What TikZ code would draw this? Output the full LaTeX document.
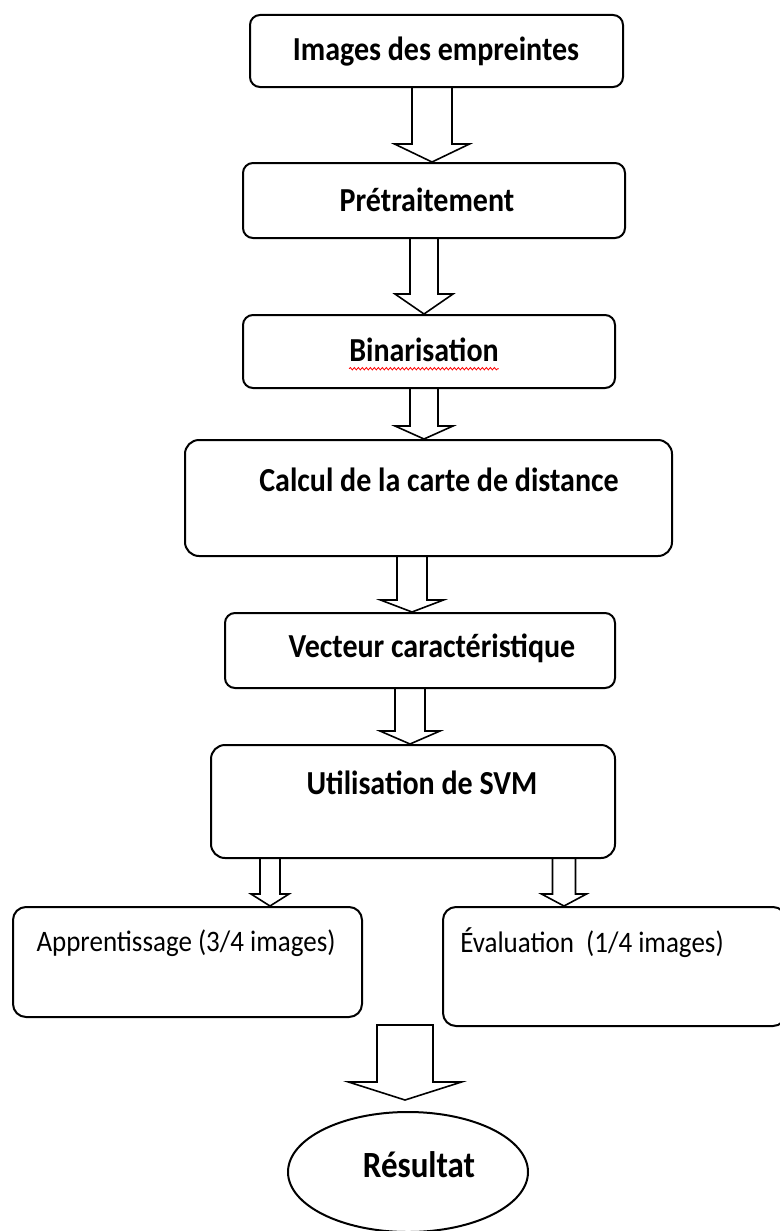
\documentclass[tikz,border=0pt]{standalone}
\usepackage{fontspec}
\setmainfont{Carlito}
\usetikzlibrary{calc,shapes.geometric,decorations.pathmorphing}

\tikzset{
  stage/.style={draw, line width=2pt, rounded corners=10pt, inner sep=0pt},
  caption/.style={inner sep=0pt, yscale=1.12, font=\fontsize{30}{36}\selectfont\bfseries},
  subcaption/.style={inner sep=0pt, yscale=1.1, font=\fontsize{27}{32}\selectfont},
  hollow arrow/.style={draw, line width=1.6pt, line join=miter}
}

% hollow block arrow: start, tip, x, half shaft, half head, head length
\newcommand{\blockarrow}[6]{%
  \draw[hollow arrow] let \p1=(#1), \p2=(#2) in
    (#3pt-#4pt,\y1) -- (#3pt-#4pt,\y2+#6pt) -- (#3pt-#5pt,\y2+#6pt) -- (#3pt,\y2)
    -- (#3pt+#5pt,\y2+#6pt) -- (#3pt+#4pt,\y2+#6pt) -- (#3pt+#4pt,\y1);}

\begin{document}
\begin{tikzpicture}[x=1pt,y=-1pt]
\useasboundingbox (0,0) rectangle (779,1231);

\begin{scope}[every node/.style={stage}]
    \node (b1) at (436.5,51) [minimum width=373pt, minimum height=72pt] {};
    \node (b2) at (434,200.5) [minimum width=382pt, minimum height=75pt] {};
    \node (b3) at (429,351.5) [minimum width=372pt, minimum height=73pt] {};
    \node (b4) at (428.5,498) [minimum width=487pt, minimum height=116pt, rounded corners=14pt] {};
    \node (b5) at (420,650.5) [minimum width=390pt, minimum height=75pt] {};
    \node (b6) at (413,801.5) [minimum width=404pt, minimum height=113pt, rounded corners=14pt] {};
    \node (b7) at (187.5,962) [minimum width=349pt, minimum height=110pt, rounded corners=13pt] {};
    \node (b8) at (614.5,966.5) [minimum width=343pt, minimum height=119pt, rounded corners=13pt] {};
    \node (res) at (408,1172) [ellipse, minimum width=240pt, minimum height=120pt, rounded corners=0pt] {};
\end{scope}

\begin{scope}[every node/.style={caption}]
    \node (t1) at (436,52) {Images des empreintes};
    \node (t2) at (427,200) {Prétraitement};
    \node (t3) at (424,350) {Binarisation};
    \node (t4) at (439,480) {Calcul de la carte de distance};
    \node (t5) at (432,648) {Vecteur caractéristique};
    \node (t6) at (422,783) {Utilisation de SVM};
    \node (t9) at (419,1165) [font=\fontsize{33}{40}\selectfont\bfseries] {Résultat};
\end{scope}
\node[subcaption] (t7) at (186,943) {Apprentissage (3/4 images)};
\node[subcaption] (t8) at (592,943) {Évaluation~~(1/4 images)};

% spell-check underline
\draw[red, line width=0.8pt, decorate, decoration={snake, amplitude=1.2pt, segment length=4pt}]
    ($(t3.base west)+(0,7)$) -- ($(t3.base east)+(0,7)$);

\blockarrow{b1.south}{b2.north}{432}{20}{37.5}{18}
\blockarrow{b2.south}{b3.north}{424}{14}{29}{20}
\blockarrow{b3.south}{b4.north}{424}{14}{29}{13}
\blockarrow{b4.south}{b5.north}{412}{15}{31.5}{12}
\blockarrow{b5.south}{b6.north}{410}{15}{30}{13}
\blockarrow{b6.south}{b7.north}{270}{10}{19}{12}
\blockarrow{b6.south}{b8.north}{564}{11.5}{22.5}{12}

\coordinate (r1) at (405,1025);
\coordinate (r2) at (405,1100);
\draw[hollow arrow] let \p1=(r1), \p2=(r2) in
    (\x1-28pt,\y1) -- (\x1-28pt,\y2+18pt) -- (\x1-56.5pt,\y2+18pt) -- (r2)
    -- (\x1+56.5pt,\y2+18pt) -- (\x1+28pt,\y2+18pt) -- (\x1+28pt,\y1) -- cycle;

\end{tikzpicture}
\end{document}
